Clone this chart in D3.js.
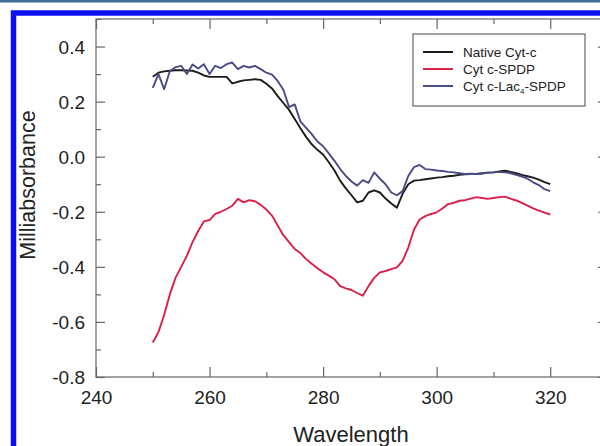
<!DOCTYPE html>
<html><head><meta charset="utf-8">
<script src="https://cdn.jsdelivr.net/npm/d3@7"></script>
<style>html,body{margin:0;padding:0;background:#fff;overflow:hidden}svg{display:block;font-family:"Liberation Sans",Arial,sans-serif}</style>
</head><body>
<script>
// ---- data ----
const wavelengths = d3.range(250, 321); // 250..320 nm
const nativeCytC = [0.29,0.305,0.31,0.312,0.314,0.314,0.313,0.312,0.305,0.295,0.29,0.29,0.29,0.29,0.266,0.272,0.277,0.279,0.281,0.279,0.265,0.248,0.22,0.195,0.17,0.137,0.103,0.072,0.045,0.025,0.008,-0.02,-0.05,-0.087,-0.115,-0.14,-0.166,-0.16,-0.13,-0.122,-0.13,-0.152,-0.17,-0.185,-0.135,-0.1,-0.087,-0.085,-0.082,-0.079,-0.076,-0.074,-0.071,-0.069,-0.066,-0.064,-0.063,-0.063,-0.061,-0.058,-0.057,-0.054,-0.051,-0.055,-0.06,-0.066,-0.071,-0.076,-0.083,-0.092,-0.1];
const cytCSPDP = [-0.675,-0.637,-0.575,-0.5,-0.44,-0.4,-0.36,-0.31,-0.27,-0.235,-0.23,-0.208,-0.2,-0.19,-0.178,-0.153,-0.166,-0.158,-0.162,-0.175,-0.192,-0.214,-0.25,-0.285,-0.31,-0.335,-0.35,-0.372,-0.389,-0.405,-0.42,-0.432,-0.445,-0.47,-0.478,-0.484,-0.495,-0.505,-0.47,-0.44,-0.42,-0.415,-0.408,-0.402,-0.378,-0.33,-0.265,-0.228,-0.216,-0.208,-0.202,-0.188,-0.172,-0.168,-0.16,-0.158,-0.152,-0.147,-0.15,-0.153,-0.15,-0.147,-0.145,-0.152,-0.159,-0.168,-0.178,-0.188,-0.196,-0.203,-0.21];
const cytCLacSPDP = [0.25,0.3,0.245,0.31,0.325,0.33,0.3,0.335,0.32,0.336,0.3,0.33,0.322,0.336,0.342,0.318,0.33,0.324,0.33,0.318,0.305,0.298,0.275,0.243,0.18,0.19,0.128,0.105,0.082,0.055,0.038,0.012,-0.015,-0.045,-0.07,-0.09,-0.105,-0.085,-0.095,-0.057,-0.08,-0.1,-0.13,-0.14,-0.125,-0.07,-0.038,-0.03,-0.045,-0.047,-0.05,-0.052,-0.055,-0.057,-0.06,-0.063,-0.062,-0.063,-0.06,-0.058,-0.057,-0.055,-0.057,-0.06,-0.066,-0.072,-0.08,-0.093,-0.103,-0.118,-0.125];
const seriesNames = ["Native Cyt-c", "Cyt c-SPDP", "Cyt c-Lac4-SPDP"];
const seriesColors = ["#1c1c1c", "#dc1e48", "#4a4a86"];
const xMajorTicks = [240, 260, 280, 300, 320];
const xMinorTicks = [250, 270, 290, 310, 330];
const yMajorTicks = [-0.8, -0.6, -0.4, -0.2, 0.0, 0.2, 0.4];
const yMinorTicks = [-0.7, -0.5, -0.3, -0.1, 0.1, 0.3, 0.5];

const W = 600, H = 446;
const L = 96, R = 607, T = 19, B = 377;
const svg = d3.select("body").append("svg").attr("width", W).attr("height", H);
svg.append("rect").attr("width", W).attr("height", H).attr("fill", "#fff");
// top strip and blue frame
svg.append("rect").attr("x", 0).attr("y", 0).attr("width", W).attr("height", 2.5).attr("fill", "#3f6f98");
svg.append("rect").attr("x", 13.5).attr("y", 13).attr("width", 700).attr("height", 600)
  .attr("fill", "none").attr("stroke", "#0a10f2").attr("stroke-width", 5.5);

const x = d3.scaleLinear().domain([240, 330]).range([L, R]);
const y = d3.scaleLinear().domain([-0.8, 0.5]).range([B, T]);

const axisColor = "#666";
const g = svg.append("g");
// frame
g.append("rect").attr("x", L).attr("y", T).attr("width", R - L).attr("height", B - T)
  .attr("fill", "none").attr("stroke", axisColor).attr("stroke-width", 1.2);

function styleAxis(sel) {
  sel.select(".domain").remove();
  sel.selectAll(".tick line").attr("stroke", axisColor).attr("stroke-width", 1.2);
}
// bottom axis
const bx = g.append("g").attr("transform", `translate(0,${B})`)
  .call(d3.axisBottom(x).tickValues(xMajorTicks).tickSize(-10).tickPadding(0).tickFormat(d3.format("d")));
styleAxis(bx);
bx.selectAll(".tick text").attr("y", 27).attr("dy", 0).attr("font-size", 19).attr("fill", "#222").attr("font-family", "Liberation Sans, Arial");
g.append("g").attr("transform", `translate(0,${B})`)
  .call(d3.axisBottom(x).tickValues(xMinorTicks).tickSize(-5).tickFormat("")).call(styleAxis);
// top axis
g.append("g").attr("transform", `translate(0,${T})`)
  .call(d3.axisTop(x).tickValues(xMajorTicks).tickSize(-10).tickFormat("")).call(styleAxis);
g.append("g").attr("transform", `translate(0,${T})`)
  .call(d3.axisTop(x).tickValues(xMinorTicks).tickSize(-5).tickFormat("")).call(styleAxis);
// left axis
const ly = g.append("g").attr("transform", `translate(${L},0)`)
  .call(d3.axisLeft(y).tickValues(yMajorTicks).tickSize(-9).tickPadding(0).tickFormat(d3.format(".1f")));
styleAxis(ly);
ly.selectAll(".tick text").attr("x", -11).attr("dy", "0.36em").attr("font-size", 19).attr("fill", "#222").attr("font-family", "Liberation Sans, Arial")
  .text(d => d3.format(".1f")(d).replace("−", "-"));
g.append("g").attr("transform", `translate(${L},0)`)
  .call(d3.axisLeft(y).tickValues(yMinorTicks).tickSize(-5).tickFormat("")).call(styleAxis);
// right axis
g.append("g").attr("transform", `translate(${R},0)`)
  .call(d3.axisRight(y).tickValues(yMajorTicks).tickSize(-9).tickFormat("")).call(styleAxis);
g.append("g").attr("transform", `translate(${R},0)`)
  .call(d3.axisRight(y).tickValues(yMinorTicks).tickSize(-5).tickFormat("")).call(styleAxis);

// lines
const data = [nativeCytC, cytCSPDP, cytCLacSPDP];
const line = d3.line().x((d, i) => x(wavelengths[i])).y(d => y(d));
[1, 0, 2].forEach(k => {
  g.append("path").datum(data[k]).attr("d", line).attr("fill", "none")
    .attr("stroke", seriesColors[k]).attr("stroke-width", 1.9).attr("stroke-linejoin", "round");
});

// axis titles
svg.append("text").attr("x", 351).attr("y", 442).attr("text-anchor", "middle")
  .attr("font-size", 22).attr("fill", "#222").text("Wavelength");
svg.append("text").attr("transform", "translate(35,185) rotate(-90)").attr("text-anchor", "middle")
  .attr("font-size", 21.5).attr("fill", "#222").text("Milliabsorbance");

// legend
const lg = svg.append("g");
lg.append("rect").attr("x", 413).attr("y", 34).attr("width", 172).attr("height", 72)
  .attr("fill", "#fff").attr("stroke", axisColor).attr("stroke-width", 1.2);
const rowY = [52, 69, 86];
seriesNames.forEach((name, i) => {
  lg.append("line").attr("x1", 423).attr("x2", 453).attr("y1", rowY[i]).attr("y2", rowY[i])
    .attr("stroke", seriesColors[i]).attr("stroke-width", 2);
  const t = lg.append("text").attr("x", 463).attr("y", rowY[i] + 4.8).attr("font-size", 13.5).attr("fill", "#222");
  if (name === "Cyt c-Lac4-SPDP") {
    t.append("tspan").text("Cyt c-Lac");
    t.append("tspan").attr("font-size", 8).attr("dy", 3).text("4");
    t.append("tspan").attr("dy", -3).text("-SPDP");
  } else t.text(name);
});
</script>
</body></html>
